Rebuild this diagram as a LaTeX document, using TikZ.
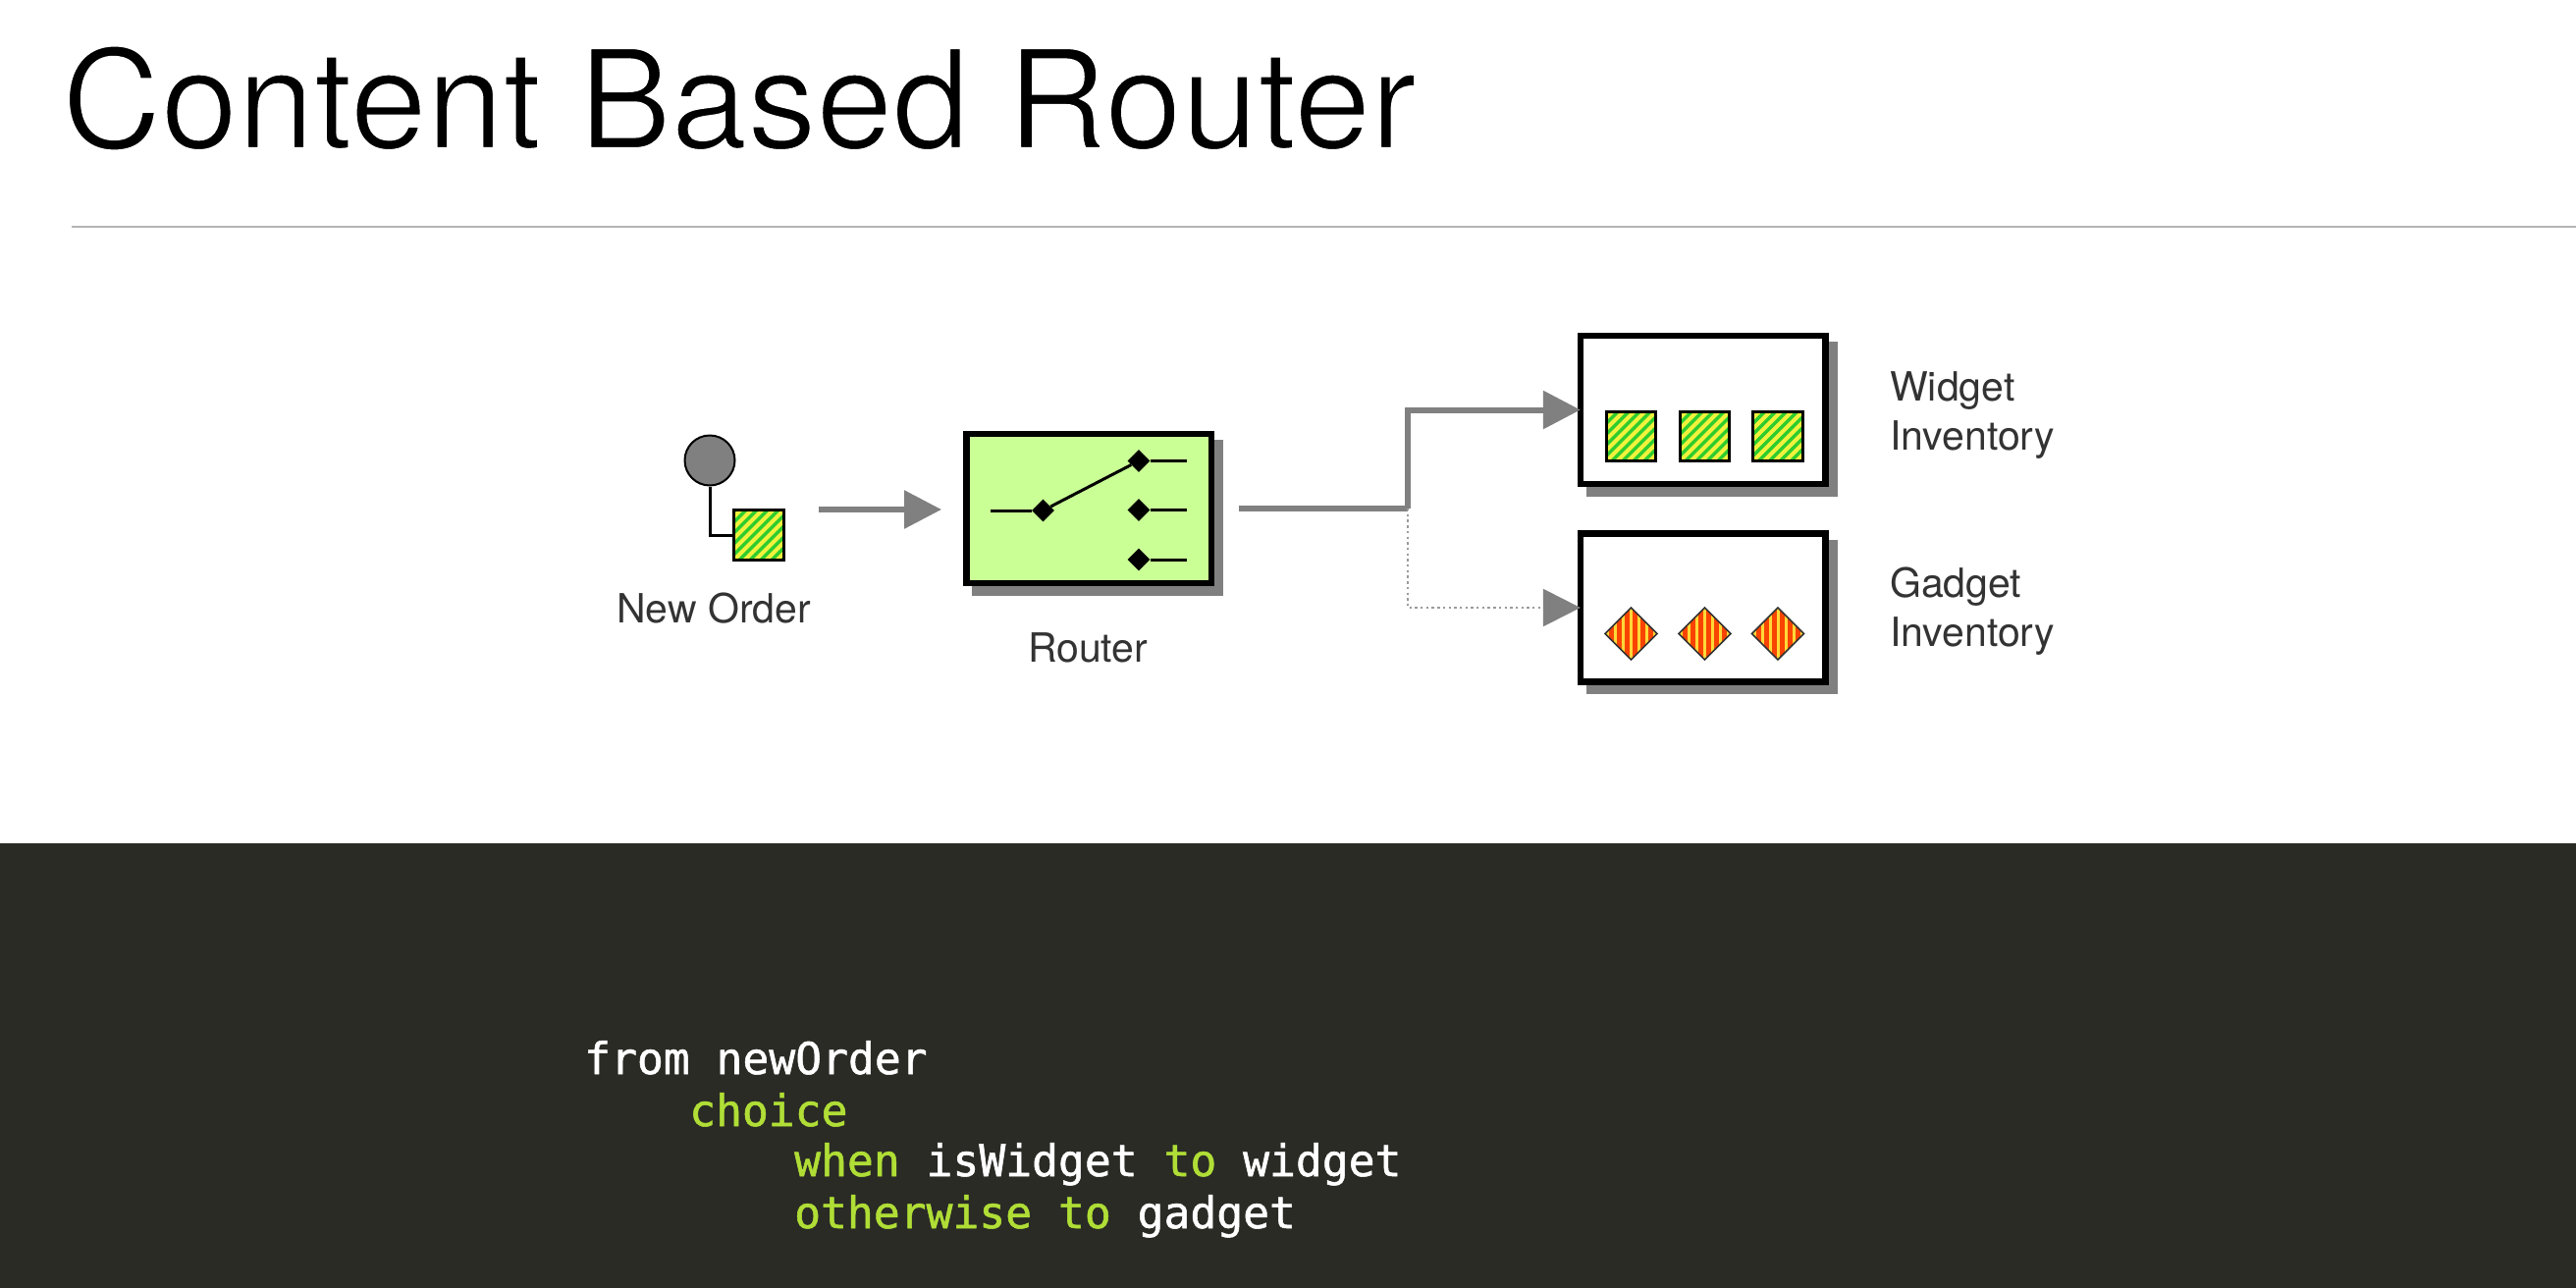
\documentclass[tikz,border=0pt]{standalone}
\usepackage{fontspec}
\setmainfont{TeX Gyre Heros}
\newfontfamily\codefont[FakeBold=1.2]{DejaVu Sans Mono}
\usetikzlibrary{arrows.meta,shapes.geometric}

\definecolor{panelgray}{HTML}{2A2B25}
\definecolor{rulegray}{HTML}{B4B4B4}
\definecolor{flowgray}{HTML}{808080}
\definecolor{dotgray}{HTML}{9A9A9A}
\definecolor{routergreen}{HTML}{CAFF96}
\definecolor{codegreen}{HTML}{B0DE36}
\definecolor{hatchgreen}{HTML}{2ECC2E}
\definecolor{hatchyellow}{HTML}{F2F23C}
\definecolor{stripered}{HTML}{F84400}
\definecolor{stripeyellow}{HTML}{FFD838}
\definecolor{labelgray}{HTML}{333333}

\newcommand{\kw}[1]{\textcolor{codegreen}{#1}}
% white outline round the glyphs, to get the lighter weight of the title
\newcommand{\thintext}[1]{\special{pdf:code 2 Tr 1 1 1 RG 2.2 w}#1\special{pdf:code 0 Tr 0 0 0 RG 1 w}}

\tikzset{
	shadowed/.style={preaction={draw=flowgray,fill=flowgray,transform canvas={shift={(9pt,-9.5pt)}}}},
	box/.style={rectangle,draw=black,line width=6.5pt,inner sep=0pt,outer sep=0pt,minimum width=249.5pt,shadowed},
	widgetitem/.style={rectangle,draw=black,line width=3pt,inner sep=0pt,outer sep=0pt,minimum size=50.5pt,fill=hatchgreen,
		path picture={
			\foreach \s in {-66,-55,...,66}
				\draw[hatchyellow,line width=4.2pt] ([xshift=\s pt]path picture bounding box.center) ++(-40pt,-40pt) -- ++(80pt,80pt);
		}},
	gadgetitem/.style={diamond,draw=black!80,line width=1.5pt,inner sep=0pt,outer sep=0pt,minimum width=53pt,minimum height=53pt,fill=stripered,
		path picture={
			\foreach \s in {-24,-16,...,24}
				\draw[stripeyellow,line width=3pt] ([xshift=\s pt]path picture bounding box.center) ++(0pt,-30pt) -- ++(0pt,60pt);
		}},
	pin/.style={diamond,fill=black,inner sep=0pt,minimum width=23pt,minimum height=23pt},
	wire/.style={draw=black,line width=3pt},
	flow/.style={draw=flowgray,line width=6pt},
	head/.style={-{Triangle[width=38pt,length=38pt,color=flowgray,fill=flowgray]}},
	label/.style={font=\fontsize{41}{50}\selectfont,text=labelgray,inner sep=0pt,align=left},
	code/.style={font=\codefont\fontsize{44.65}{52}\selectfont,text=white,inner sep=0pt,anchor=base west}
}

\begin{document}
\begin{tikzpicture}[x=1pt,y=-1pt]
	\useasboundingbox (0,0) rectangle (2624,1312);
	\fill[white] (0,0) rectangle (2624,1312);

	\node[anchor=base west,inner sep=0pt,font=\fontsize{140}{168}\selectfont] (title) at (63,151) {\thintext{Content Based Router}};
	\coordinate (ruleleft) at (73,231);
	\coordinate (ruleright) at (2624,231);
	\draw[rulegray,line width=2pt] (ruleleft) -- (ruleright);

	\fill[panelgray] (0,859) rectangle (2624,1312);

	% new order
	\node[circle,draw=black,line width=2pt,fill=flowgray,inner sep=0pt,minimum size=51pt] (order) at (723,469) {};
	\node[widgetitem] (orderitem) at (773,545) {};
	\draw[wire] (order.south) |- (orderitem.west);
	\node[label,anchor=base] (orderlabel) at (727,634) {New Order};

	% router
	\node[box,fill=routergreen,minimum height=152pt] (router) at (1109.3,518) {};
	\node[pin] (switchin) at (1062.5,520) {};
	\node[pin] (switcha) at (1160,469.5) {};
	\node[pin] (switchb) at (1160,519.5) {};
	\node[pin] (switchc) at (1160,570) {};
	\coordinate (wirein) at (1009,520);
	\coordinate (wirea) at (1209,469.5);
	\coordinate (wireb) at (1209,519.5);
	\coordinate (wirec) at (1209,570);
	\path[wire]
	(wirein) edge (switchin)
	(switchin) edge (switcha)
	(switcha) edge (wirea)
	(switchb) edge (wireb)
	(switchc) edge (wirec);
	\node[label,anchor=base] (routerlabel) at (1108,674) {Router};

	% inventories
	\node[box,fill=white,minimum height=151pt] (widgets) at (1734.6,417.5) {};
	\node[box,fill=white,minimum height=151pt] (gadgets) at (1734.6,619) {};
	\foreach \n/\x in {a/1661.5,b/1736.5,c/1811} {
		\node[widgetitem] (widget\n) at (\x,444.5) {};
		\node[gadgetitem] (gadget\n) at (\x,645.5) {};
	}
	\node[label,anchor=west] (widgetlabel) at (1925,423) {Widget\\Inventory};
	\node[label,anchor=west] (gadgetlabel) at (1925,623) {Gadget\\Inventory};

	% connectors
	\coordinate (orderout) at (834,519);
	\coordinate (routerin) at (959,519);
	\coordinate (routerout) at (1262,518);
	\coordinate (fork) at (1434,518);
	\draw[flow,head] (orderout) -- (routerin);
	\draw[flow] (routerout) -- (fork);
	\draw[flow,head,line join=miter] (fork) |- (widgets.west);
	\draw[dotgray,line width=2.4pt,dash pattern=on 2.4pt off 3.3pt,head] (fork) |- (gadgets.west);

	% code
	\node[code] (line1) at (595,1094) {from newOrder};
	\node[code] (line2) at (702,1147) {\kw{choice}};
	\node[code] (line3) at (809,1198) {\kw{when} isWidget \kw{to} widget};
	\node[code] (line4) at (809,1251) {\kw{otherwise} \kw{to} gadget};
\end{tikzpicture}
\end{document}
